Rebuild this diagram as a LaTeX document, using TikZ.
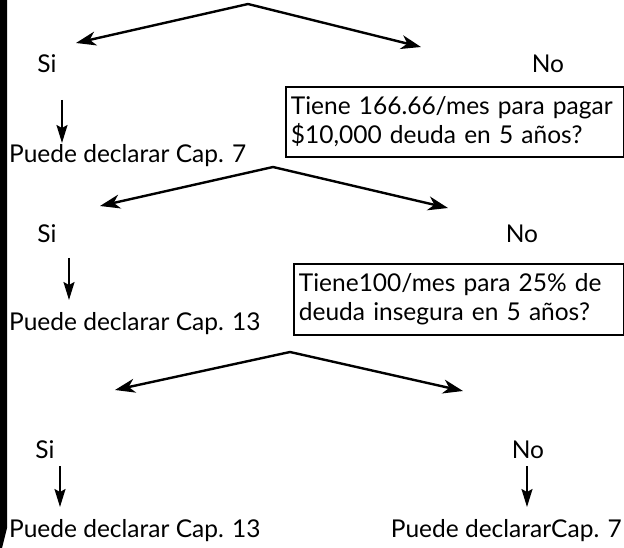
\documentclass[tikz,border=0pt]{standalone}
\usepackage{fontspec}
\setmainfont{Lato}
\usetikzlibrary{arrows.meta}
\tikzset{
  x=1pt, y=-1pt,
  txt/.style={inner sep=0pt, font=\fontsize{24.5}{29}\selectfont},
  qbox/.style={draw, line width=1.8pt, inner xsep=5pt, inner ysep=0pt, align=left,
    font=\fontsize{24.5}{29}\selectfont, anchor=north west},
  branch/.style={line width=2.4pt, -{Stealth[length=20pt,width=14pt,inset=6pt]}},
  down/.style={line width=2pt, -{Stealth[length=18pt,width=11pt,inset=3pt]}}
}
\begin{document}
\begin{tikzpicture}
\useasboundingbox (0,0) rectangle (624,548);
\fill[black] (0,0) -- (7,0) -- (7,528) -- (2,548) -- (0,548) -- cycle;

% level 1
\coordinate (a1) at (248,4);
\coordinate (l1) at (76,43);
\coordinate (r1) at (421,47);
\node[txt, anchor=base] (si1) at (47,73) {Si};
\node[txt, anchor=base] (no1) at (548,73) {No};
\coordinate (d1s) at (62,100);
\coordinate (d1e) at (62,143);
\node[txt, anchor=base west] (p1) at (9,163) {Puede declarar Cap. 7};
\node[qbox, minimum width=338pt, minimum height=70pt, text width=328pt] (box1) at (285,86)
  {Tiene 166.66/mes para pagar\\\$10,000 deuda en 5 años?};
\draw[branch] (a1) -- (l1);
\draw[branch] (a1) -- (r1);
\draw[down] (d1s) -- (d1e);

% level 2
\coordinate (a2) at (273,167);
\coordinate (l2) at (100,206);
\coordinate (r2) at (448,208);
\node[txt, anchor=base] (si2) at (47,243) {Si};
\node[txt, anchor=base] (no2) at (522,243) {No};
\coordinate (d2s) at (69,258);
\coordinate (d2e) at (69,300);
\node[txt, anchor=base west] (p2) at (9,330) {Puede declarar Cap. 13};
\node[qbox, minimum width=330pt, minimum height=71pt, text width=320pt] (box2) at (293,263)
  {Tiene100/mes para 25\% de\\deuda insegura en 5 años?};
\draw[branch] (a2) -- (l2);
\draw[branch] (a2) -- (r2);
\draw[down] (d2s) -- (d2e);

% level 3
\coordinate (a3) at (290,352);
\coordinate (l3) at (115,390);
\coordinate (r3) at (463,391);
\node[txt, anchor=base] (si3) at (45,458) {Si};
\node[txt, anchor=base] (no3) at (528,458) {No};
\coordinate (d3s) at (60,466);
\coordinate (d3e) at (60,507);
\coordinate (d4s) at (527,466);
\coordinate (d4e) at (527,507);
\node[txt, anchor=base west] (p3) at (9,537) {Puede declarar Cap. 13};
\node[txt, anchor=base east] (p4) at (622,537) {Puede declararCap. 7};
\draw[branch] (a3) -- (l3);
\draw[branch] (a3) -- (r3);
\draw[down] (d3s) -- (d3e);
\draw[down] (d4s) -- (d4e);
\end{tikzpicture}
\end{document}
